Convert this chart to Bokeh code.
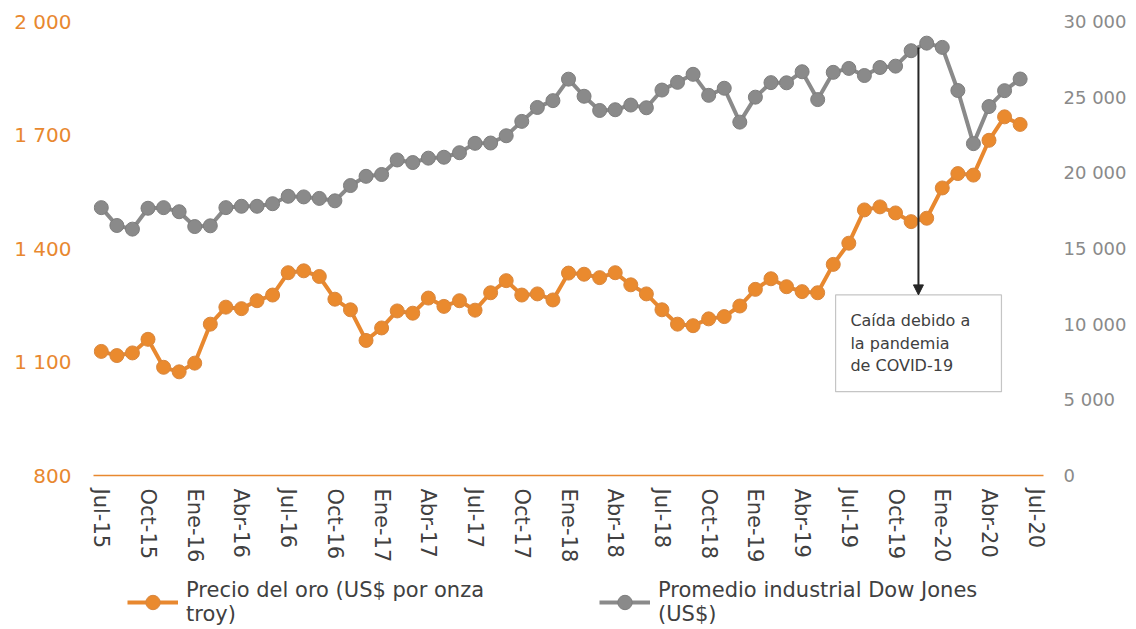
from bokeh.plotting import figure
from bokeh.layouts import column
from bokeh.models import (Range1d, LinearAxis, FixedTicker, Legend, LegendItem,
                          BoxAnnotation, Arrow, NormalHead, Label, ColumnDataSource)
from bokeh.embed import file_html
from bokeh.resources import INLINE

# ---- data (monthly, Jul-15 .. Jun-20) ----
gold = [1128, 1117, 1124, 1160, 1086, 1074, 1097, 1200, 1245, 1241, 1262, 1277,
        1336, 1341, 1326, 1266, 1238, 1157, 1190, 1235, 1229, 1269, 1247, 1262,
        1237, 1283, 1315, 1277, 1280, 1264, 1335, 1332, 1323, 1336, 1304, 1280,
        1238, 1200, 1196, 1214, 1220, 1248, 1292, 1320, 1299, 1286, 1283, 1358,
        1414, 1502, 1510, 1494, 1471, 1480, 1560, 1598, 1594, 1686, 1748, 1728]
dow = [17700, 16520, 16280, 17660, 17700, 17430, 16450, 16500, 17700, 17790, 17790, 17960,
       18450, 18410, 18310, 18150, 19160, 19770, 19890, 20850, 20680, 20970, 21030, 21330,
       21950, 21970, 22450, 23400, 24320, 24770, 26190, 25060, 24120, 24170, 24480, 24300,
       25470, 25980, 26510, 25120, 25590, 23350, 25000, 25960, 25950, 26680, 24840, 26640,
       26900, 26430, 26960, 27050, 28070, 28570, 28290, 25440, 21930, 24380, 25430, 26200]
month_idx = list(range(len(gold)))

x_tick_labels = ["Jul-15", "Oct-15", "Ene-16", "Abr-16", "Jul-16", "Oct-16", "Ene-17",
                 "Abr-17", "Jul-17", "Oct-17", "Ene-18", "Abr-18", "Jul-18", "Oct-18",
                 "Ene-19", "Abr-19", "Jul-19", "Oct-19", "Ene-20", "Abr-20", "Jul-20"]
left_ticks = [800, 1100, 1400, 1700, 2000]
left_labels = ["800", "1 100", "1 400", "1 700", "2 000"]
right_ticks = [0, 5000, 10000, 15000, 20000, 25000, 30000]
right_labels = ["0", "5 000", "10 000", "15 000", "20 000", "25 000", "30 000"]

gold_name = "Precio del oro (US$ por onza\ntroy)"
dow_name = "Promedio industrial Dow Jones\n(US$)"
note_text = "Caída debido a\nla pandemia\nde COVID-19"

FONT = "DejaVu Sans"
ORANGE = "#E8882F"
GRAY = "#8A8A8A"
GOLD_STYLE = dict(line=dict(line_color=ORANGE, line_width=4),
                  marker=dict(size=14, fill_color="#EA8A2E", line_color="#D8873F", line_width=1))
DOW_STYLE = dict(line=dict(line_color=GRAY, line_width=4),
                 marker=dict(size=14, fill_color=GRAY, line_color="#7E7E7E", line_width=1))

src = ColumnDataSource(dict(x=month_idx, gold=gold, dow=dow))

p = figure(width=1136, height=565, x_range=Range1d(-0.5, 60.5), y_range=Range1d(800, 2000),
           output_backend="svg", toolbar_location=None,
           min_border_left=93, min_border_right=93, min_border_top=21, min_border_bottom=89)
p.outline_line_color = None
p.grid.visible = False
p.extra_y_ranges = {"dow": Range1d(0, 30000)}

# x axis
xa = p.xaxis[0]
xa.ticker = FixedTicker(ticks=list(range(0, 61, 3)))
xa.major_label_overrides = {i * 3: lab for i, lab in enumerate(x_tick_labels)}
xa.major_label_orientation = "vertical"
xa.axis_line_color = ORANGE
xa.axis_line_width = 1.5
xa.major_tick_line_color = None
xa.minor_tick_line_color = None
xa.major_tick_out = 0
xa.major_tick_in = 0
xa.major_label_standoff = 13
xa.major_label_text_font = FONT
xa.major_label_text_font_size = "21px"
xa.major_label_text_color = "#404040"

# left axis
ya = p.yaxis[0]
ya.ticker = FixedTicker(ticks=left_ticks)
ya.major_label_overrides = dict(zip(left_ticks, left_labels))
ya.axis_line_color = None
ya.major_tick_line_color = None
ya.minor_tick_line_color = None
ya.major_tick_out = 0
ya.major_tick_in = 0
ya.major_label_standoff = 22
ya.major_label_text_font = FONT
ya.major_label_text_font_size = "20px"
ya.major_label_text_color = ORANGE

# right axis
ra = LinearAxis(y_range_name="dow")
ra.ticker = FixedTicker(ticks=right_ticks)
ra.major_label_overrides = dict(zip(right_ticks, right_labels))
ra.axis_line_color = None
ra.major_tick_line_color = None
ra.minor_tick_line_color = None
ra.major_tick_out = 0
ra.major_tick_in = 0
ra.major_label_standoff = 20
ra.major_label_text_font = FONT
ra.major_label_text_font_size = "18px"
ra.major_label_text_color = GRAY
p.add_layout(ra, "right")

# series
p.line("x", "dow", source=src, y_range_name="dow", **DOW_STYLE["line"])
p.scatter("x", "dow", source=src, y_range_name="dow", **DOW_STYLE["marker"])
p.line("x", "gold", source=src, **GOLD_STYLE["line"])
p.scatter("x", "gold", source=src, **GOLD_STYLE["marker"])

# annotation
p.add_layout(BoxAnnotation(left=47.15, right=57.8, top=11935, bottom=5540, y_range_name="dow",
                           fill_color="white", fill_alpha=1, line_color="#404040",
                           line_width=1.2))
p.add_layout(Arrow(end=NormalHead(size=10, fill_color="#262626", line_color="#262626"),
                   x_start=52.47, y_start=28290, x_end=52.47, y_end=11935,
                   y_range_name="dow", line_color="#262626", line_width=2))
p.add_layout(Label(x=48.1, y=10880, y_range_name="dow", text=note_text,
                   text_font=FONT, text_font_size="16px", text_color="#404040",
                   text_baseline="top", text_line_height=1.2))

# legend strip (separate figure below the chart; its series lie outside its view)
lg = figure(width=1136, height=64, x_range=Range1d(-0.5, 60.5), y_range=Range1d(0, 1),
            output_backend="svg", toolbar_location=None,
            min_border_left=93, min_border_right=93, min_border_top=0, min_border_bottom=0)
lg.axis.visible = False
lg.grid.visible = False
lg.outline_line_color = None
k1 = lg.line("x", "gold", source=src, **GOLD_STYLE["line"])
k2 = lg.scatter("x", "gold", source=src, **GOLD_STYLE["marker"])
k3 = lg.line("x", "dow", source=src, **DOW_STYLE["line"])
k4 = lg.scatter("x", "dow", source=src, **DOW_STYLE["marker"])
legend = Legend(items=[LegendItem(label=gold_name, renderers=[k1, k2]),
                       LegendItem(label=dow_name, renderers=[k3, k4])],
                location=(34, 3), orientation="horizontal",
                label_text_font=FONT, label_text_font_size="21px",
                label_text_line_height=1.15,
                label_text_color="#404040", label_width=380, spacing=33,
                glyph_width=51, glyph_height=36, label_standoff=8,
                border_line_color=None, background_fill_alpha=0, padding=0, margin=0)
lg.add_layout(legend, "center")

open("out.html", "w").write(file_html(column(p, lg, spacing=0), INLINE))
